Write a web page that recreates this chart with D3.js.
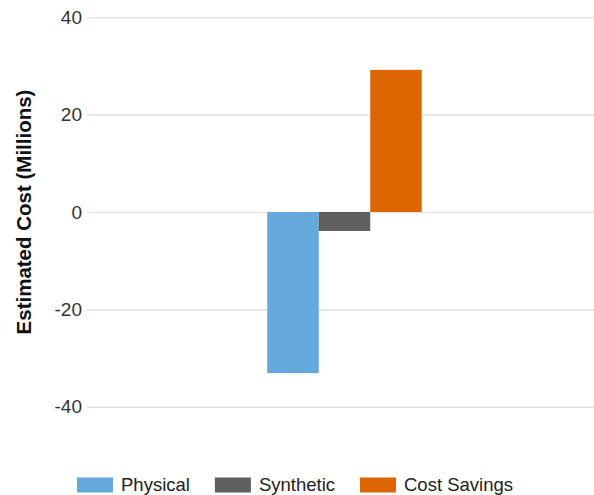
<!DOCTYPE html>
<html>
<head>
<meta charset="utf-8">
<script src="https://cdn.jsdelivr.net/npm/d3@7"></script>
<style>
  html, body { margin: 0; padding: 0; background: #fff; }
  svg { display: block; font-family: Arial, "Liberation Sans", Helvetica, sans-serif; }
</style>
</head>
<body>
<svg id="chart" width="594" height="495"></svg>
<script>
// Series and their values (millions)
const seriesNames = ["Physical", "Synthetic", "Cost Savings"];
const seriesValues = [-33.1, -3.9, 29.2];
const seriesColors = ["#64a8dc", "#5f5f5f", "#dd6600"];
const yTicks = [-40, -20, 0, 20, 40];
const yTitle = "Estimated Cost (Millions)";

const width = 594, height = 495;
const plot = { left: 87, right: 602, top: 17.3, bottom: 406.7 };

const svg = d3.select("#chart");

const y = d3.scaleLinear().domain([-40, 40]).range([plot.bottom, plot.top]);

// One category, three grouped bars
const x0 = d3.scaleBand().domain([""]).range([plot.left, plot.right])
  .paddingInner(0).paddingOuter(1.167);
const x1 = d3.scaleBand().domain(seriesNames).range([0, x0.bandwidth()]).padding(0);

// Gridlines + tick labels (plain hyphen for negatives)
const yAxis = d3.axisLeft(y).tickValues(yTicks).tickFormat(d => String(d))
  .tickSize(-(plot.right - plot.left)).tickPadding(5);
const gAxis = svg.append("g").attr("transform", `translate(${plot.left},0)`).call(yAxis);
gAxis.select(".domain").remove();
gAxis.selectAll(".tick line").attr("stroke", "#e4e4e4").attr("stroke-width", 1.6);
gAxis.selectAll(".tick text")
  .attr("fill", "#333").attr("font-size", 19)
  .attr("x", -5);

// Bars
svg.append("g").selectAll("rect")
  .data(seriesNames.map((n, i) => ({ name: n, value: seriesValues[i], color: seriesColors[i] })))
  .join("rect")
  .attr("x", d => x0("") + x1(d.name))
  .attr("width", x1.bandwidth())
  .attr("y", d => y(Math.max(0, d.value)))
  .attr("height", d => Math.abs(y(d.value) - y(0)))
  .attr("fill", d => d.color);

// Y axis title
svg.append("text")
  .attr("transform", `translate(31,${(plot.top + plot.bottom) / 2}) rotate(-90)`)
  .attr("text-anchor", "middle")
  .attr("font-size", 20.5).attr("font-weight", "bold").attr("fill", "#111")
  .text(yTitle);

// Legend, centred below the plot
const legend = svg.append("g");
const swW = 36, swH = 15, gapText = 8, gapItem = 25, fs = 18.5;
let cx = 0;
seriesNames.forEach((n, i) => {
  const g = legend.append("g").attr("transform", `translate(${cx},0)`);
  g.append("rect").attr("x", 0).attr("y", -swH / 2).attr("width", swW).attr("height", swH)
    .attr("fill", seriesColors[i]);
  const t = g.append("text").attr("x", swW + gapText).attr("y", 0).attr("dy", "0.35em")
    .attr("font-size", fs).attr("fill", "#222").text(n);
  cx += swW + gapText + t.node().getComputedTextLength() + gapItem;
});
const legendW = cx - gapItem;
legend.attr("transform", `translate(${(width - legendW) / 2 - 2},485)`);
</script>
</body>
</html>
